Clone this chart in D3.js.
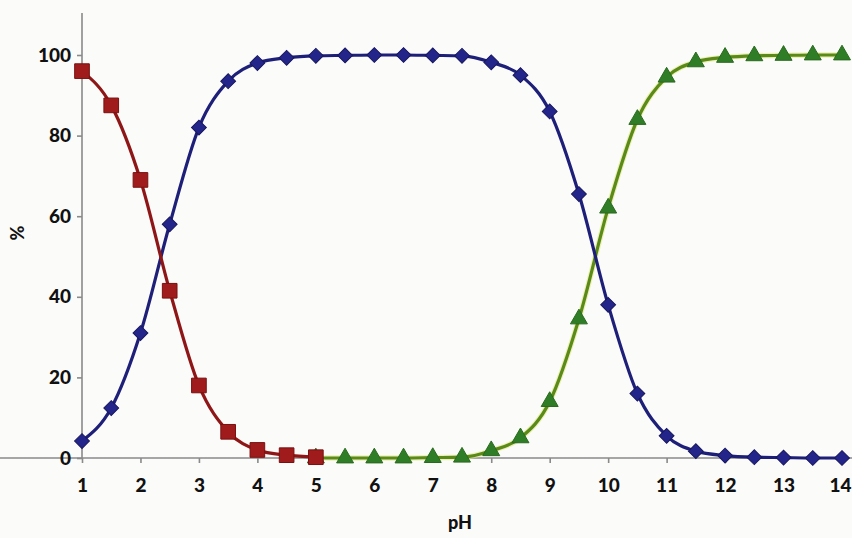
<!DOCTYPE html>
<html>
<head>
<meta charset="utf-8">
<script src="https://cdn.jsdelivr.net/npm/d3@7"></script>
<style>
  html, body { margin: 0; padding: 0; background: #fbfbfa; }
  svg { display: block; }
  .tick text { font-family: Lato, "Open Sans", sans-serif; font-weight: 900; font-size: 19px; fill: #111; }
  .title { font-family: Lato, sans-serif; font-weight: 900; font-size: 18px; fill: #111; }
</style>
</head>
<body>
<svg id="chart" width="852" height="538"></svg>
<script>
// Species distribution vs pH (step 0.5)
const phCation = [1, 1.5, 2, 2.5, 3, 3.5, 4, 4.5, 5];
const cation   = [96, 87.5, 69, 41.5, 18, 6.5, 2, 0.7, 0.2];

const phZwitter = [1, 1.5, 2, 2.5, 3, 3.5, 4, 4.5, 5, 5.5, 6, 6.5, 7, 7.5, 8, 8.5, 9, 9.5, 10, 10.5, 11, 11.5, 12, 12.5, 13, 13.5, 14];
const zwitter   = [4.2, 12.4, 31, 58, 82, 93.5, 98, 99.3, 99.8, 99.9, 100, 100, 99.9, 99.8, 98.2, 95, 86, 65.5, 38, 16, 5.5, 1.7, 0.6, 0.2, 0.1, 0, 0];

const phAnion = [5, 5.5, 6, 6.5, 7, 7.5, 8, 8.5, 9, 9.5, 10, 10.5, 11, 11.5, 12, 12.5, 13, 13.5, 14];
const anion   = [0, 0, 0, 0, 0.1, 0.2, 1.8, 5, 14, 34.5, 62, 84, 94.5, 98.3, 99.4, 99.8, 99.9, 100, 100];

const xTicks = [1, 2, 3, 4, 5, 6, 7, 8, 9, 10, 11, 12, 13, 14];
const yTicks = [0, 20, 40, 60, 80, 100];

const svg = d3.select("#chart");
const width = +svg.attr("width");
const x = d3.scaleLinear().domain([1, 14]).range([82, 842]);
const y = d3.scaleLinear().domain([0, 100]).range([458, 55]);
const axisTop = 13;

// axes
const gx = svg.append("g").attr("transform", `translate(0,${y(0)})`)
  .call(d3.axisBottom(x).tickValues(xTicks).tickSize(5).tickSizeOuter(0).tickPadding(18));
const gy = svg.append("g").attr("transform", `translate(${x(1)},0)`)
  .call(d3.axisLeft(y).tickValues(yTicks).tickSize(5).tickSizeOuter(0).tickPadding(6));
gy.select(".domain").attr("d", `M0,${y(0)}V${axisTop}`);
gx.select(".domain").attr("d", `M0,0H${width}`);
svg.selectAll(".domain, .tick line").attr("stroke", "#8a8a8a").attr("stroke-width", 1.6);
gx.selectAll(".tick text").attr("dy", "0.6em");
// keep the last tick label inside the right edge
gx.selectAll(".tick text").filter(d => d === xTicks[xTicks.length - 1])
  .attr("text-anchor", "end").attr("x", width - 1 - x(xTicks[xTicks.length - 1]));

svg.append("text").attr("class", "title").attr("x", 460).attr("y", 529).attr("text-anchor", "middle")
  .text("pH");
svg.append("text").attr("class", "title").attr("transform", `translate(24,233) rotate(-90)`).attr("text-anchor", "middle")
  .text("%");

const line = d3.line().x(d => x(d[0])).y(d => y(d[1])).curve(d3.curveMonotoneX);

function series(px, vals, lineColor, halo, markerFill, markerStroke, symbolType, size, rot) {
  const pts = px.map((p, i) => [p, vals[i]]);
  if (halo) {
    svg.append("path").datum(pts).attr("d", line).attr("fill", "none")
      .attr("stroke", halo).attr("stroke-width", 5.5).attr("stroke-opacity", 0.6);
  }
  svg.append("path").datum(pts).attr("d", line).attr("fill", "none")
    .attr("stroke", lineColor).attr("stroke-width", 3.2);
  const sym = d3.symbol().type(symbolType).size(size);
  svg.append("g").selectAll("path").data(pts).join("path")
    .attr("d", sym)
    .attr("transform", d => `translate(${x(d[0])},${y(d[1])}) rotate(${rot})`)
    .attr("fill", markerFill).attr("stroke", markerStroke).attr("stroke-width", 1);
}

series(phAnion, anion, "#5a8a18", "#e4ea8a", "#2f7d26", "#2a6a1e", d3.symbolTriangle, 125, 0);
series(phZwitter, zwitter, "#1d1f78", null, "#24258a", "#17175e", d3.symbolSquare, 110, 45);
series(phCation, cation, "#8e1616", null, "#a01c1c", "#7a1010", d3.symbolSquare, 215, 0);
</script>
</body>
</html>
